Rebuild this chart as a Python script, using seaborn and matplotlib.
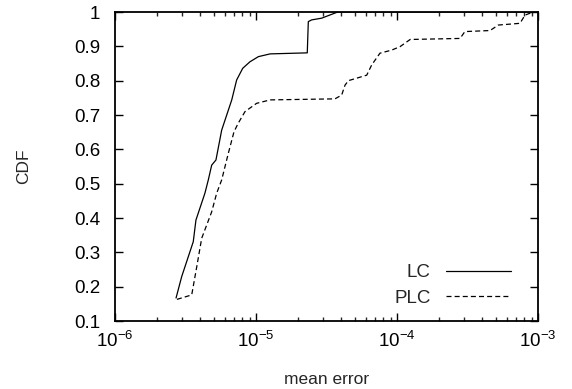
import matplotlib
matplotlib.use("Agg")
import matplotlib.pyplot as plt
import numpy as np
import pandas as pd
import seaborn as sns

lc_err = [2.71e-6, 2.97e-6, 3.59e-6, 3.75e-6, 4.34e-6, 4.59e-6, 4.85e-6, 5.20e-6,
          5.71e-6, 6.73e-6, 7.29e-6, 8.05e-6, 9.06e-6, 1.04e-5, 1.26e-5, 2.31e-5,
          2.35e-5, 2.48e-5, 2.92e-5, 3.8e-5, 1.0e-3]
lc_cdf = [0.167, 0.229, 0.331, 0.394, 0.472, 0.511, 0.554, 0.569,
          0.656, 0.744, 0.802, 0.836, 0.855, 0.870, 0.878, 0.881,
          0.972, 0.977, 0.982, 1.0, 1.0]

plc_err = [2.75e-6, 3.50e-6, 3.80e-6, 4.12e-6, 4.85e-6, 5.26e-6, 5.71e-6, 6.36e-6,
           6.98e-6, 7.48e-6, 8.36e-6, 1.01e-5, 1.26e-5, 3.63e-5, 4.05e-5, 4.28e-5,
           4.52e-5, 6.10e-5, 6.62e-5, 7.57e-5, 9.16e-5, 1.05e-4, 1.24e-4, 2.80e-4,
           3.03e-4, 4.57e-4, 5.23e-4, 7.45e-4, 8.09e-4, 9.27e-4]
plc_cdf = [0.163, 0.176, 0.258, 0.341, 0.418, 0.472, 0.511, 0.588,
           0.651, 0.676, 0.710, 0.734, 0.744, 0.747, 0.758, 0.787,
           0.800, 0.816, 0.846, 0.880, 0.889, 0.899, 0.920, 0.923,
           0.943, 0.946, 0.962, 0.967, 0.991, 1.0]

x_ticks = [1e-6, 1e-5, 1e-4, 1e-3]
x_labels = [r"$\mathregular{10^{-6}}$", r"$\mathregular{10^{-5}}$",
            r"$\mathregular{10^{-4}}$", r"$\mathregular{10^{-3}}$"]
y_ticks = [0.1, 0.2, 0.3, 0.4, 0.5, 0.6, 0.7, 0.8, 0.9, 1.0]
y_labels = ["0.1", "0.2", "0.3", "0.4", "0.5", "0.6", "0.7", "0.8", "0.9", "1"]

sns.set_style("ticks")
plt.rcParams["font.family"] = ["Liberation Sans", "DejaVu Sans"]
plt.rcParams["mathtext.fontset"] = "custom"
plt.rcParams["mathtext.rm"] = "Liberation Sans"

fs = 13.5
fig = plt.figure(figsize=(5.72, 3.89), dpi=100)
ax = fig.add_axes([115 / 572, 1 - 321 / 389, 423 / 572, 309 / 389])

sns.lineplot(x=lc_err, y=lc_cdf, sort=False, color="black", linewidth=0.9,
             label="LC", ax=ax)
sns.lineplot(x=plc_err, y=plc_cdf, sort=False, color="black", linewidth=0.9,
             label="PLC", ax=ax)
ax.lines[1].set_dashes([4, 2.5])

ax.set_xscale("log")
ax.set_xlim(1e-6, 1e-3)
ax.set_ylim(0.1, 1.0)
ax.set_xticks(x_ticks)
ax.set_xticklabels(x_labels)
ax.set_yticks(y_ticks)
ax.set_yticklabels(y_labels)

for s in ax.spines.values():
    s.set_visible(True)
    s.set_linewidth(1.3)
    s.set_color("black")

ax.tick_params(which="major", direction="in", length=6, width=1,
               top=True, right=True, labelsize=fs, colors="black")
ax.tick_params(axis="y", which="major", pad=10.5)
ax.tick_params(axis="x", which="major", pad=7)
ax.tick_params(which="minor", direction="in", length=3, width=1,
               top=True, right=True)
ax.tick_params(axis="y", which="minor", left=False, right=False)

ax.set_xlabel("mean error", fontsize=12.5, labelpad=15)
ax.set_ylabel("CDF", fontsize=12.5, labelpad=31)

leg = ax.legend(loc="lower right", bbox_to_anchor=(0.955, 0.022),
                frameon=False, markerfirst=False, fontsize=fs,
                handlelength=3.5, handletextpad=0.8, borderaxespad=0,
                labelspacing=0.45)
for t in leg.get_texts():
    t.set_ha("right")

fig.savefig("out.png", dpi=100)
